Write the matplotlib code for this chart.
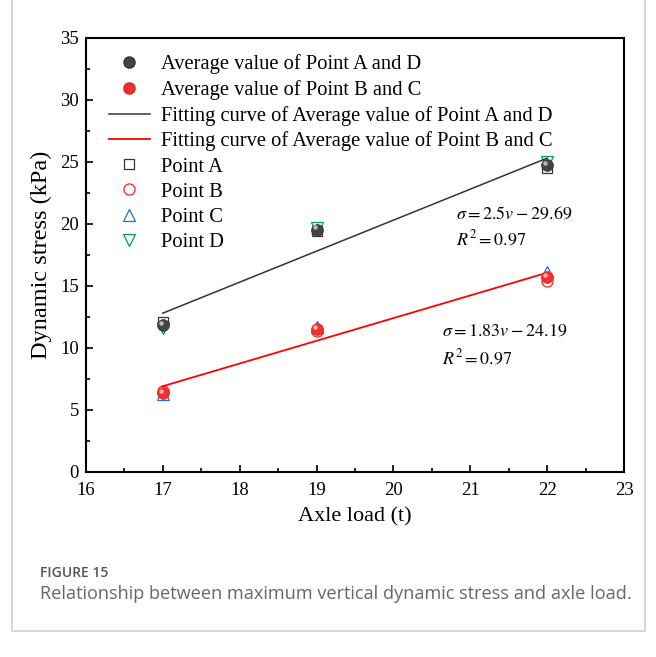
import numpy as np
import matplotlib
matplotlib.use('Agg')
import matplotlib.pyplot as plt
import matplotlib.transforms as mtransforms
from matplotlib.patches import Rectangle
from matplotlib.lines import Line2D
from matplotlib.ticker import MultipleLocator

plt.rcParams['font.family'] = ['Liberation Serif', 'DejaVu Serif']
plt.rcParams['mathtext.fontset'] = 'stix'

# axle load (t)
axle = [17, 19, 22]
point_a = [12.1, 19.4, 24.5]
point_b = [6.5, 11.4, 15.4]
point_c = [6.3, 11.7, 16.1]
point_d = [11.6, 19.7, 25.0]
avg_ad = [11.85, 19.55, 24.75]
avg_bc = [6.4, 11.55, 15.75]

# fitted lines  sigma = k*v + b
fit_ad = (2.5, -29.69)
fit_bc = (1.83, -24.19)

fig = plt.figure(figsize=(6.56, 6.57), dpi=100)

# card frame
fig.patches.append(Rectangle((12/656, 1-631/657), 633/656, 0.99,
                             transform=fig.transFigure, fill=False,
                             edgecolor='#cfcfcf', lw=1.2))

ax = fig.add_axes([86/656, 1-472/657, 538/656, 434/657])

xfit = np.array([axle[0], axle[-1]])

ax.plot(axle, point_a, ls='none', marker='s', ms=7, mfc='none', mec='#333333', mew=0.9)
ax.plot(axle, point_b, ls='none', marker='o', ms=8, mfc='none', mec='#ff2020', mew=0.9)
ax.plot(axle, point_c, ls='none', marker='^', ms=8, mfc='none', mec='#1e6fd9', mew=0.9)
ax.plot(axle, point_d, ls='none', marker='v', ms=8, mfc='none', mec='#00a050', mew=0.9)

ax.plot(xfit, fit_ad[0]*xfit + fit_ad[1], color='#333333', lw=1.1)
ax.plot(xfit, fit_bc[0]*xfit + fit_bc[1], color='#ff0000', lw=1.3)

# shaded "spheres"
hl = mtransforms.offset_copy(ax.transData, fig=fig, x=-1.2, y=1.5, units='points')
ax.plot(axle, avg_ad, ls='none', marker='o', ms=8.5, mfc='#444444', mec='#333333', mew=0.5)
ax.plot(axle, avg_ad, ls='none', marker='o', ms=3.2, mfc='#bbbbbb', mec='none', transform=hl)
ax.plot(axle, avg_bc, ls='none', marker='o', ms=8.5, mfc='#f03030', mec='#e02020', mew=0.5)
ax.plot(axle, avg_bc, ls='none', marker='o', ms=3.2, mfc='#ffb0b0', mec='none', transform=hl)

ax.text(20.82, 20.4, r'$\sigma = 2.5v - 29.69$', fontsize=13)
ax.text(20.82, 18.3, r'$R^2 = 0.97$', fontsize=13)
ax.text(20.63, 11.0, r'$\sigma = 1.83v - 24.19$', fontsize=13)
ax.text(20.63, 8.7, r'$R^2 = 0.97$', fontsize=13)

ax.set_xlim(16, 23)
ax.set_ylim(0, 35)
ax.xaxis.set_major_locator(MultipleLocator(1))
ax.xaxis.set_minor_locator(MultipleLocator(0.5))
ax.yaxis.set_major_locator(MultipleLocator(5))
ax.yaxis.set_minor_locator(MultipleLocator(2.5))
ax.tick_params(which='both', direction='in', top=False, right=False, width=1.2, labelsize=13.5)
ax.tick_params(which='major', length=5)
ax.tick_params(which='minor', length=3)
ax.tick_params(axis='x', pad=7)
ax.tick_params(axis='y', pad=5)
for s in ax.spines.values():
    s.set_linewidth(1.5)

ax.set_xlabel('Axle load (t)', fontsize=16, labelpad=6)
ax.set_ylabel('Dynamic stress (kPa)', fontsize=17.5, labelpad=6)

# legend
sph_ad = Line2D([], [], ls='none', marker='o', ms=8, mfc='#444444', mec='#333333')
sph_bc = Line2D([], [], ls='none', marker='o', ms=8, mfc='#f03030', mec='#e02020')
handles = [sph_ad, sph_bc,
           Line2D([], [], color='#333333', lw=1.1),
           Line2D([], [], color='#ff0000', lw=1.3),
           Line2D([], [], ls='none', marker='s', ms=7, mfc='none', mec='#333333', mew=0.9),
           Line2D([], [], ls='none', marker='o', ms=8, mfc='none', mec='#ff2020', mew=0.9),
           Line2D([], [], ls='none', marker='^', ms=8, mfc='none', mec='#1e6fd9', mew=0.9),
           Line2D([], [], ls='none', marker='v', ms=8, mfc='none', mec='#00a050', mew=0.9)]
labels = ['Average value of Point A and D', 'Average value of Point B and C',
          'Fitting curve of Average value of Point A and D',
          'Fitting curve of Average value of Point B and C',
          'Point A', 'Point B', 'Point C', 'Point D']
ax.legend(handles, labels, loc='upper left', bbox_to_anchor=(0.027, 0.981), frameon=False,
          fontsize=14.8, handlelength=2.0, handletextpad=0.55, labelspacing=0.28,
          borderaxespad=0.0)

fig.text(40/656, 1-573/657, 'FIGURE 15', fontsize=10, color='#555555',
         family=['Open Sans', 'DejaVu Sans'], fontweight='semibold', va='center')
fig.text(40/656, 1-594/657, 'Relationship between maximum vertical dynamic stress and axle load.',
         fontsize=13.1, color='#666666', family=['Open Sans', 'DejaVu Sans'], va='center')

fig.savefig('out.png', dpi=100)
